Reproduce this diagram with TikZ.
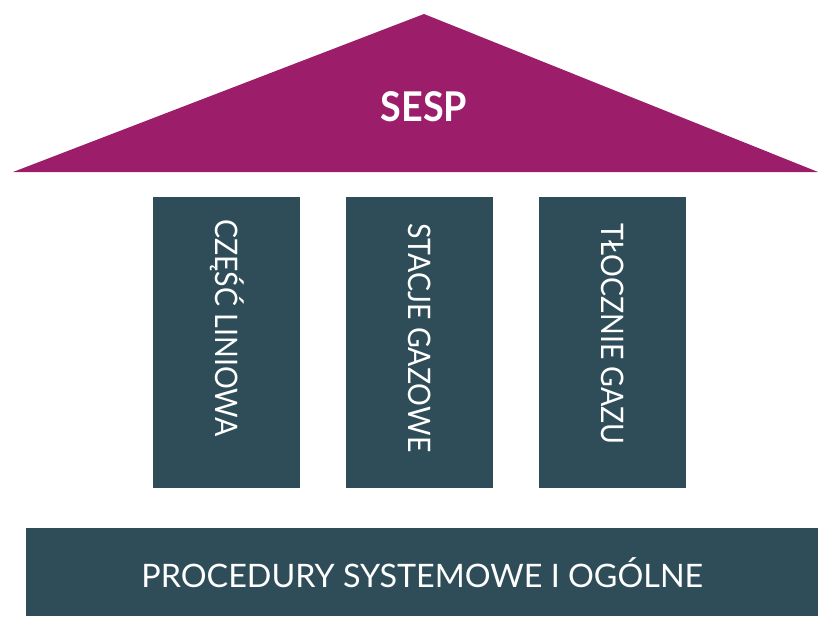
\documentclass[tikz,border=0pt]{standalone}
\usepackage{fontspec}
\setmainfont{Lato}
\newfontfamily\colfont[FakeStretch=0.92]{Lato}
\newfontfamily\roofont[FakeStretch=0.92]{Lato}
\definecolor{roof}{HTML}{9C1E6A}
\definecolor{pillar}{HTML}{2E4D58}
\tikzset{
  pillarbox/.style={fill=pillar, draw=none, minimum width=147pt, minimum height=291pt, inner sep=0pt, anchor=north west},
  pillartext/.style={text=white, font=\colfont\fontsize{31}{31}\selectfont, rotate=-90, anchor=west, inner sep=0pt, text height=22pt, text depth=0pt},
  basebox/.style={fill=pillar, draw=none, minimum width=792pt, minimum height=88pt, inner sep=0pt, anchor=north west},
}
\begin{document}
\begin{tikzpicture}[x=1pt,y=-1pt]
\useasboundingbox (0,0) rectangle (818,616);
% roof
\coordinate (apex) at (424,14);
\coordinate (rl) at (13,172);
\coordinate (rr) at (818,172);
\fill[roof] (rl) -- (apex) -- (rr) -- cycle;
\node[text=white, font=\roofont\bfseries\fontsize{41}{41}\selectfont, inner sep=0pt] (sesp) at (424,107) {SESP};
% pillars
\node[pillarbox] (p1) at (153,197) {};
\node[pillarbox] (p2) at (346,197) {};
\node[pillarbox] (p3) at (539,197) {};
\node[pillartext] (t1) at ([yshift=-22pt]p1.north) {CZĘŚĆ LINIOWA};
\node[pillartext] (t2) at ([yshift=-26pt]p2.north) {STACJE GAZOWE};
\node[pillartext] (t3) at ([yshift=-26pt]p3.north) {TŁOCZNIE GAZU};
% base
\node[basebox] (base) at (26,528) {};
\node[text=white, font=\fontsize{32.3}{32.3}\selectfont, inner sep=0pt] (bt) at (base.center) {PROCEDURY SYSTEMOWE I OGÓLNE};
\end{tikzpicture}
\end{document}
